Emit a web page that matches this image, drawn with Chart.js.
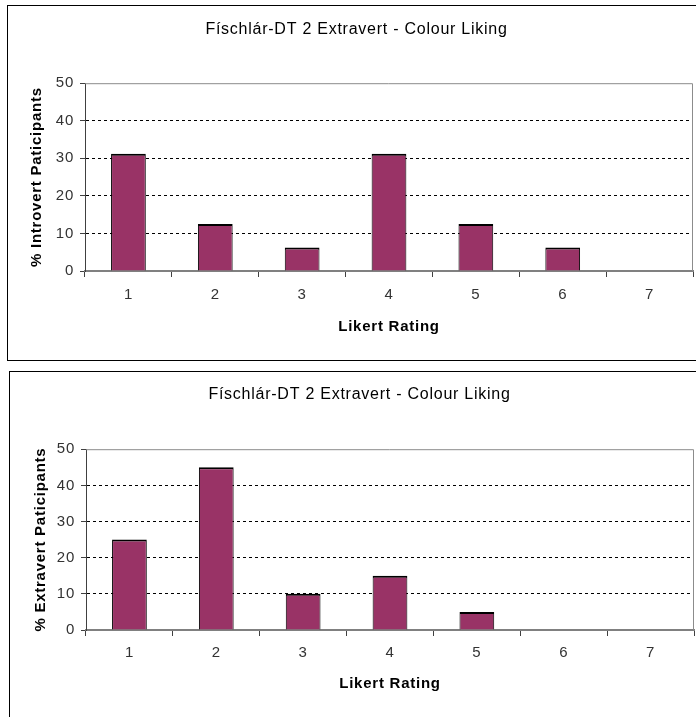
<!DOCTYPE html>
<html>
<head>
<meta charset="utf-8">
<title>Colour Liking</title>
<script src="https://cdn.jsdelivr.net/npm/chart.js@4.4.1/dist/chart.umd.min.js"></script>
<style>
  html, body {
    margin: 0;
    padding: 0;
    background: #fff;
    overflow: hidden;
    width: 696px;
    height: 717px;
  }
  .box {
    position: absolute;
    border: 1px solid #000;
    background: #fff;
  }
  #box_intro { left: 7px; top: 5px; width: 698px; height: 354px; }
  #box_extra { left: 9px; top: 371px; width: 696px; height: 350px; }
</style>
</head>
<body>

<div class="box" id="box_intro"><canvas id="intro_chart" width="698" height="354"></canvas></div>
<div class="box" id="box_extra"><canvas id="extra_chart" width="696" height="350"></canvas></div>

<script>
  const chartTitle = 'Físchlár-DT 2 Extravert - Colour Liking';
  const ratings = ['1', '2', '3', '4', '5', '6', '7'];
  const introvertPct = [31.25, 12.5, 6.25, 31.25, 12.5, 6.25, 0];
  const extravertPct = [25, 45, 10, 15, 5, 0, 0];
  const yTicks = [0, 10, 20, 30, 40, 50];

  const BAR_COLOR = '#993366';
  const FONT = "'Liberation Sans', Arial, sans-serif";

  // the old spreadsheet text is set a little loose
  const looseText = {
    id: 'looseText',
    beforeLayout(chart) { chart.ctx.letterSpacing = '0.75px'; },
    beforeDraw(chart) { chart.ctx.letterSpacing = '0.75px'; }
  };

  // grey frame on the top and right of the plot area
  const plotFrame = {
    id: 'plotFrame',
    afterDraw(chart) {
      const { ctx, chartArea: a } = chart;
      ctx.save();
      ctx.strokeStyle = '#8c8c8c';
      ctx.lineWidth = 1;
      ctx.beginPath();
      ctx.moveTo(a.left, a.top + 0.5);
      ctx.lineTo(a.right - 0.5, a.top + 0.5);
      ctx.lineTo(a.right - 0.5, a.bottom);
      ctx.stroke();
      ctx.restore();
    }
  };

  function likertChart(el, values, yTitle, geo) {
    return new Chart(el, {
      type: 'bar',
      data: {
        labels: ratings,
        datasets: [{
          data: values,
          backgroundColor: BAR_COLOR,
          borderColor: '#000',
          borderWidth: ctx => ctx.raw > 0 ? { top: 2, left: 1, right: 1, bottom: 0 } : 0,
          borderSkipped: false,
          categoryPercentage: 1,
          barPercentage: 0.4
        }]
      },
      plugins: [looseText, plotFrame],
      options: {
        responsive: false,
        animation: false,
        events: [],
        layout: { padding: { left: geo.padLeft, right: geo.padRight, top: 0, bottom: 0 } },
        plugins: {
          legend: { display: false },
          tooltip: { enabled: false },
          title: {
            display: true,
            text: chartTitle,
            color: '#000',
            font: { family: FONT, size: 16, weight: 'normal', lineHeight: 1.2 },
            padding: { top: geo.titleTop, bottom: geo.titleBottom }
          }
        },
        scales: {
          x: {
            grid: {
              offset: true,
              drawOnChartArea: false,
              drawTicks: true,
              tickLength: 6,
              tickColor: '#404040'
            },
            border: { display: true, color: '#808080', width: 2 },
            ticks: {
              color: '#333',
              padding: geo.xTickPad,
              font: { family: FONT, size: 15 }
            },
            title: {
              display: true,
              text: 'Likert Rating',
              color: '#000',
              font: { family: FONT, size: 15, weight: 'bold', lineHeight: 1.2 },
              padding: { top: 0, bottom: geo.xTitleBottom }
            },
            afterFit(scale) { scale.height = geo.xHeight; }
          },
          y: {
            min: 0,
            max: 50,
            afterBuildTicks(scale) { scale.ticks = yTicks.map(v => ({ value: v })); },
            grid: {
              color: ctx => (ctx.tick.value === 0 || ctx.tick.value === 50) ? 'rgba(0,0,0,0)' : '#000',
              lineWidth: 1,
              drawTicks: true,
              tickLength: 5,
              tickColor: '#404040',
              tickBorderDash: []
            },
            border: { display: true, color: '#404040', width: 1, dash: [3, 3] },
            ticks: {
              color: '#333',
              padding: 6,
              font: { family: FONT, size: 15 }
            },
            title: {
              display: true,
              text: yTitle,
              color: '#000',
              font: { family: FONT, size: 15, weight: 'bold', lineHeight: 1.2 },
              padding: { top: geo.yTitleLeft, bottom: 0 }
            },
            afterFit(scale) { scale.width = geo.yWidth; }
          }
        }
      }
    });
  }

  likertChart(document.getElementById('intro_chart'), introvertPct, '% Introvert Paticipants', {
    padLeft: 12, padRight: 13, titleTop: 14, titleBottom: 44,
    xHeight: 89, xTickPad: 9, xTitleBottom: 24, yWidth: 65, yTitleLeft: 8
  });

  likertChart(document.getElementById('extra_chart'), extravertPct, '% Extravert Paticipants', {
    padLeft: 15, padRight: 12, titleTop: 13, titleBottom: 45,
    xHeight: 92, xTickPad: 8, xTitleBottom: 29, yWidth: 61, yTitleLeft: 7
  });
</script>
</body>
</html>
